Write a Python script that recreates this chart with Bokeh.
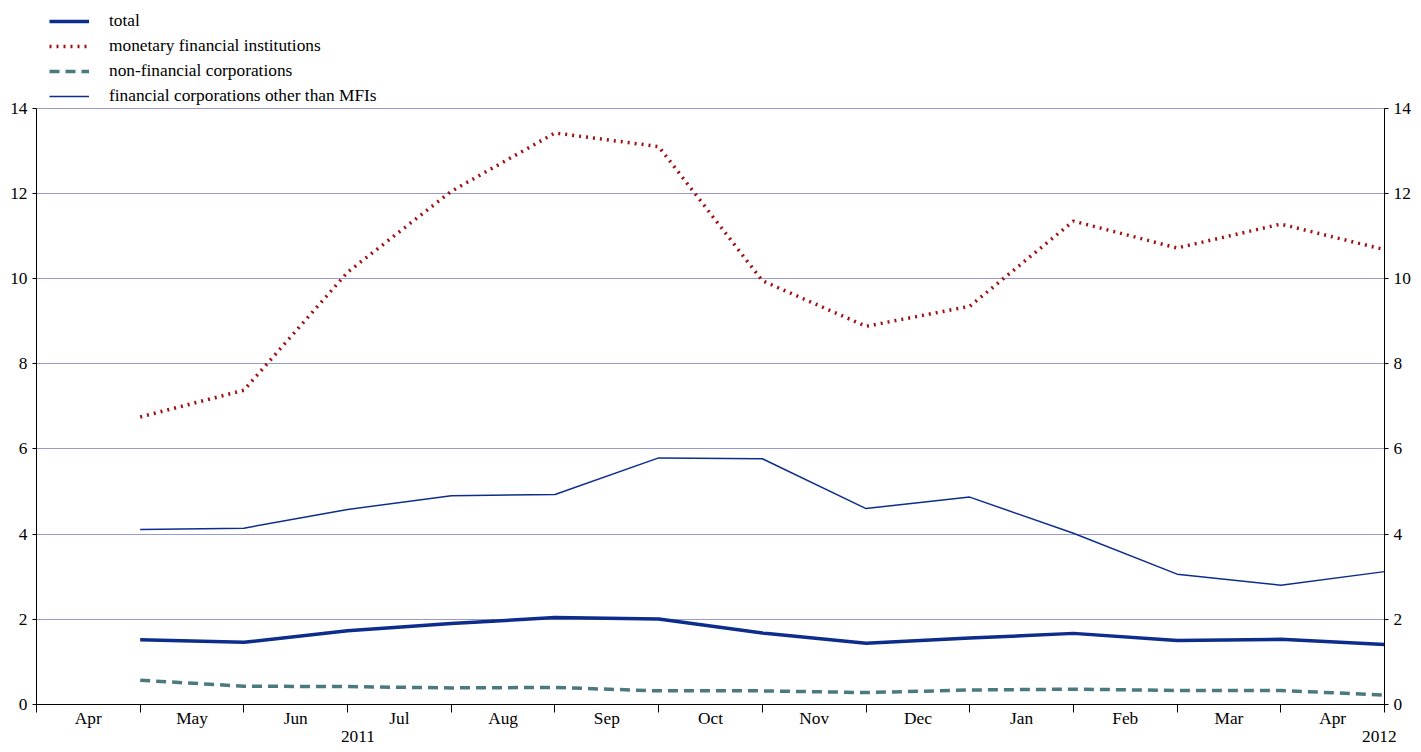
from bokeh.plotting import figure
from bokeh.models import Legend, LinearAxis, FixedTicker, Range1d
from bokeh.embed import file_html
from bokeh.resources import INLINE

months = ["Apr", "May", "Jun", "Jul", "Aug", "Sep", "Oct", "Nov", "Dec", "Jan", "Feb", "Mar", "Apr"]
xs = [1, 2, 3, 4, 5, 6, 7, 8, 9, 10, 11, 12, 13]
total = [1.52, 1.46, 1.73, 1.90, 2.04, 2.01, 1.68, 1.44, 1.56, 1.67, 1.50, 1.53, 1.41]
mfi = [6.75, 7.38, 10.15, 12.05, 13.42, 13.10, 9.95, 8.88, 9.35, 11.35, 10.72, 11.28, 10.68]
nfc = [0.57, 0.43, 0.42, 0.39, 0.40, 0.32, 0.32, 0.28, 0.34, 0.36, 0.33, 0.33, 0.22]
ofi = [4.11, 4.14, 4.58, 4.90, 4.93, 5.79, 5.77, 4.60, 4.87, 4.02, 3.06, 2.80, 3.12]

FONT = "Liberation Serif"

p = figure(width=1413, height=744, output_backend="svg", toolbar_location=None,
           x_range=Range1d(0, 13), y_range=Range1d(0, 16.53),
           min_border_left=36, min_border_right=0, min_border_top=0,
           min_border_bottom=0)
p.outline_line_color = None
p.xgrid.visible = False
p.ygrid.grid_line_color = "#9999cc"
p.ygrid.ticker = FixedTicker(ticks=[2, 4, 6, 8, 10, 12, 14])

r1 = p.line(xs, total, line_color="#0d2d8c", line_width=3.5)
r2 = p.line(xs, mfi, line_color="#a01010", line_width=3.5, line_dash="2 5")
r3 = p.line(xs, nfc, line_color="#4a7a80", line_width=3.5, line_dash="10 6")
r4 = p.line(xs, ofi, line_color="#0d2d8c", line_width=1.5)

def style_y(ax):
    ax.ticker = FixedTicker(ticks=list(range(0, 15, 2)))
    ax.bounds = (0, 14)
    ax.major_label_text_font = FONT
    ax.major_label_text_font_size = "13pt"
    ax.major_label_text_color = "black"
    ax.axis_line_color = "black"
    ax.major_tick_line_color = "black"
    ax.major_tick_in = 0
    ax.major_tick_out = 4
    ax.minor_tick_line_color = None

style_y(p.yaxis[0])
ry = LinearAxis()
style_y(ry)
p.add_layout(ry, "right")

xa = p.xaxis[0]
xa.ticker = FixedTicker(ticks=list(range(0, 14)))
xa.major_label_overrides = {i: "" for i in range(14)}
xa.major_label_text_font_size = "1pt"
xa.major_label_standoff = 0
xa.axis_line_color = "black"
xa.major_tick_line_color = "black"
xa.major_tick_in = 0
xa.major_tick_out = 8
xa.minor_tick_line_color = None

def label_axis(ticks, labels, standoff):
    ax = LinearAxis(ticker=FixedTicker(ticks=ticks),
                    major_label_overrides=dict(zip(ticks, labels)))
    ax.axis_line_color = None
    ax.major_tick_line_color = None
    ax.minor_tick_line_color = None
    ax.major_tick_out = 0
    ax.major_tick_in = 0
    ax.major_label_standoff = standoff
    ax.major_label_text_font = FONT
    ax.major_label_text_font_size = "13pt"
    ax.major_label_text_color = "black"
    p.add_layout(ax, "below")

label_axis([i + 0.5 for i in range(13)], months, -4)
label_axis([3.1, 12.95], ["2011", "2012"], 0)

legend = Legend(items=[("total", [r1]), ("monetary financial institutions", [r2]),
                       ("non-financial corporations", [r3]),
                       ("financial corporations other than MFIs", [r4])],
                location=(13, 598), orientation="vertical")
legend.border_line_color = None
legend.background_fill_alpha = 0
legend.label_text_font = FONT
legend.label_text_font_size = "13pt"
legend.label_text_color = "black"
legend.glyph_width = 40
legend.label_standoff = 20
legend.spacing = 5
legend.padding = 0
legend.margin = 0
legend.label_height = 20
legend.glyph_height = 20
p.add_layout(legend, "center")

open("out.html", "w").write(file_html(p, INLINE))
